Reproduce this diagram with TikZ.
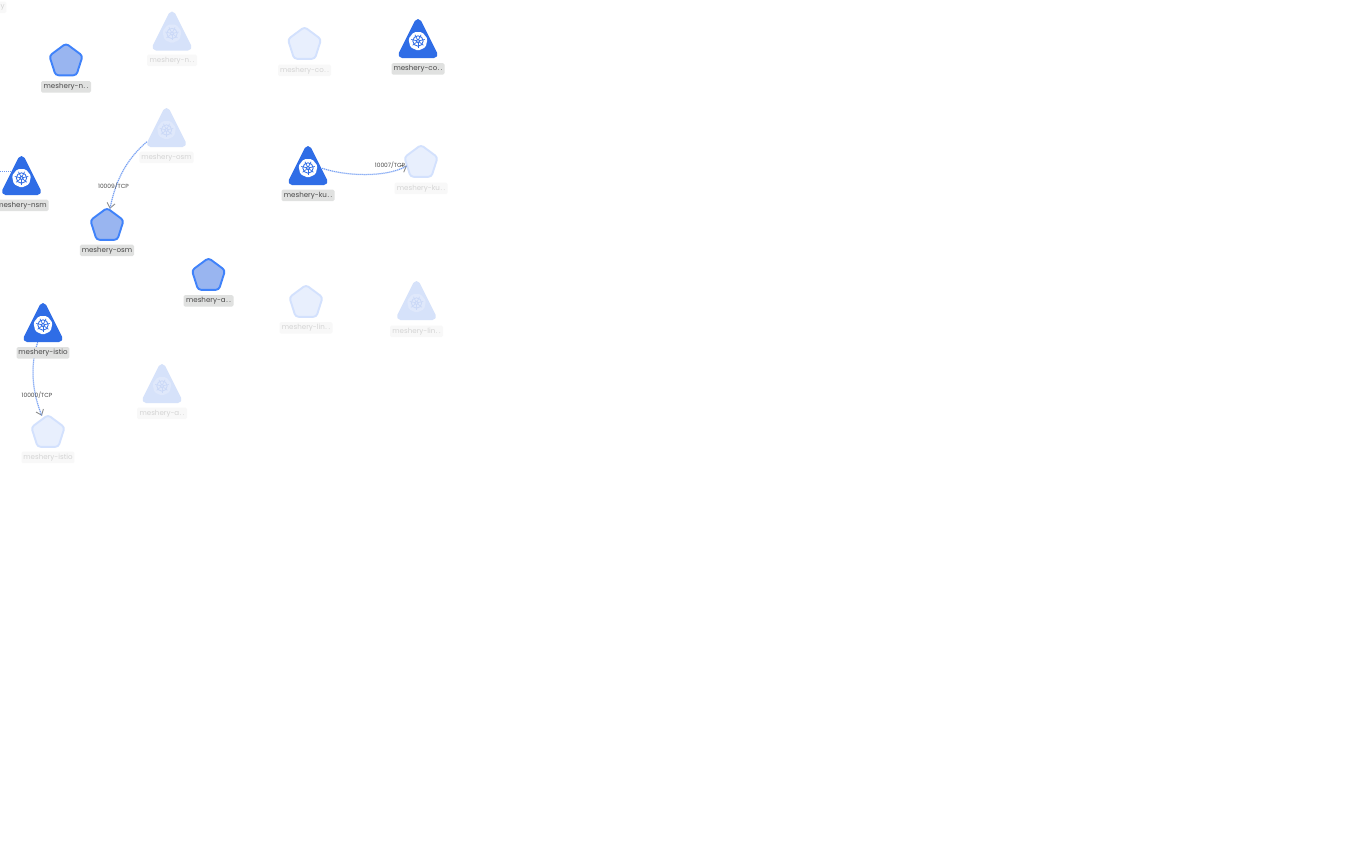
\documentclass[tikz,border=0pt]{standalone}
\usepackage{fontspec}
\setmainfont{Poppins}
\usetikzlibrary{shapes.geometric,arrows.meta,calc}
\definecolor{triB}{HTML}{2F6DE6}
\definecolor{triF}{HTML}{D6E2FA}
\definecolor{hepF}{HTML}{DFE8FB}
\definecolor{whF}{HTML}{CBD9F7}
\definecolor{penBf}{HTML}{99B5F0}
\definecolor{penBd}{HTML}{3F82FA}
\definecolor{penFf}{HTML}{E8EFFD}
\definecolor{penFd}{HTML}{D3E1FD}
\definecolor{labB}{HTML}{E0E1E0}
\definecolor{labF}{HTML}{F8F8F8}
\definecolor{txtB}{HTML}{4A4A4A}
\definecolor{txtF}{HTML}{D4D4D4}
\definecolor{edgeL}{HTML}{D7E3FC}
\definecolor{edgeD}{HTML}{6E9AF2}
\newcommand{\dd}{\kern0.6pt.\kern1.6pt.}
\tikzset{
  lab/.style={font=\fontsize{7.1}{8}\selectfont,inner xsep=1.8pt,inner ysep=0pt,minimum height=11.5pt,rounded corners=1.5pt,text=#1,yshift=-0.4pt},
  labbright/.style={lab=txtB,fill=labB},
  labfaded/.style={lab=txtF,fill=labF},
  shortlab/.style={minimum width=50pt},
  longlab/.style={minimum width=53pt},
  anchorbox/.style={inner sep=0pt,minimum width=39pt,minimum height=39pt},
  pentanchor/.style={inner sep=0pt,minimum width=33pt,minimum height=33pt},
  edgelabel/.style={font=\fontsize{5.9}{6}\selectfont,text=txtB,inner sep=0pt},
  edgebase/.style={draw=edgeL,line width=1.3pt},
  edgedots/.style={draw=edgeD,line width=1pt,dash pattern=on 1pt off 1pt},
  edgetip/.style={-{Straight Barb[length=5pt,width=8pt,color=black!45,line width=0.9pt]}},
}
% tri{name}{cx}{top}{tri colour}{hept colour}{wheel colour}
\newcommand{\triNode}[6]{%
  \pgfmathsetmacro{\bb}{#3+39}%
  \draw[#4,fill=#4,line width=7pt,line join=round] (#2,#3+3.5) -- (#2+16,\bb-3.5) -- (#2-16,\bb-3.5) -- cycle;%
  \fill[#5,rounded corners=1.5pt] (#2,\bb-17) +(90:9.8) -- +(141.4:9.8) -- +(192.9:9.8) -- +(244.3:9.8) -- +(295.7:9.8) -- +(347.1:9.8) -- +(38.6:9.8) -- cycle;%
  \draw[#6,line width=0.85pt] (#2,\bb-17) circle (5.2pt);%
  \draw[#6,line width=0.8pt] (#2,\bb-17) circle (1.7pt);%
  \foreach \a in {90,141.4,192.9,244.3,295.7,347.1,38.6}
    \draw[#6,line width=0.7pt] (#2,\bb-17) +(\a:1.4) -- +(\a:6.9);%
  \node[anchorbox] (#1) at (#2,\bb-19.5) {};%
}
% pen{name}{cx}{top}{fill}{draw}
\newcommand{\penNode}[5]{%
  \pgfmathsetmacro{\cyy}{#3+17.5}%
  \draw[fill=#4,draw=#5,line width=1.9pt,rounded corners=3pt,line join=round]
    (#2,\cyy-17.5) -- (#2+16.6,\cyy-5.2) -- (#2+10.4,\cyy+14.3) -- (#2-10.4,\cyy+14.3) -- (#2-16.6,\cyy-5.2) -- cycle;%
  \node[pentanchor] (#1) at (#2,\cyy) {};%
}
\begin{document}
\begin{tikzpicture}[x=1pt,y=-1pt]
\useasboundingbox (0,0) rectangle (1372,841);
\fill[white] (0,0) rectangle (1372,841);
\begin{scope}
\clip (0,0) rectangle (1372,841);

\coordinate (nsmfree) at (-2,171);
\triNode{nsm}{21.5}{156}{triB}{white}{triB}
\penNode{penosm}{107}{208}{penBf}{penBd}
\triNode{triosmf}{166.5}{108}{triF}{hepF}{whF}
\triNode{triku}{308}{146}{triB}{white}{triB}
\penNode{penkuf}{421}{145}{penFf}{penFd}
\triNode{triistio}{43}{303}{triB}{white}{triB}
\penNode{penistiof}{48}{415}{penFf}{penFd}

\penNode{penn}{66}{43.5}{penBf}{penBd}
\triNode{trinf}{172}{11.5}{triF}{hepF}{whF}
\penNode{pencof}{304.5}{27}{penFf}{penFd}
\triNode{trico}{418}{19}{triB}{white}{triB}
\penNode{pena}{208.5}{258}{penBf}{penBd}
\penNode{penlinf}{306}{285}{penFf}{penFd}
\triNode{trilinf}{416.5}{281}{triF}{hepF}{whF}
\triNode{triaf}{162}{364}{triF}{hepF}{whF}

% connectors
\draw[edgedots] (nsmfree) -- ($(nsm.west |- nsmfree)+(9.5,0)$);
\path[edgebase,edgetip] (triosmf.216) .. controls (128,158) and (116,178) .. (penosm.80);
\path[edgedots] (triosmf.216) .. controls (128,158) and (116,178) .. (penosm.80);
\path[edgebase,edgetip] ([xshift=-5.5pt]triku.-8) .. controls (345,176) and (385,178) .. ([xshift=2.5pt,yshift=-3.5pt]penkuf.west);
\path[edgedots] ([xshift=-5.5pt]triku.-8) .. controls (345,176) and (385,178) .. ([xshift=2.5pt,yshift=-3.5pt]penkuf.west);
\path[edgebase,edgetip] (triistio.-105) .. controls (30,365) and (32,392) .. (penistiof.110);
\path[edgedots] (triistio.-105) .. controls (30,365) and (32,392) .. (penistiof.110);

% labels
\node[labbright,shortlab] at (66,86.5) {meshery-n\dd};
\node[labfaded,shortlab]  at (172,60) {meshery-n\dd};
\node[labfaded,longlab]  at (304.5,70) {meshery-co\dd};
\node[labbright,longlab] at (418,68.5) {meshery-co\dd};
\node[labfaded]  at (166.5,157) {meshery-osm};
\node[labbright] at (21.5,205) {meshery-nsm};
\node[labbright,longlab] at (308,195) {meshery-ku\dd};
\node[labfaded,longlab]  at (421,188) {meshery-ku\dd};
\node[labbright] at (107,250) {meshery-osm};
\node[labbright,shortlab] at (208.5,300.5) {meshery-a\dd};
\node[labfaded,longlab]  at (306,327.5) {meshery-lin\dd};
\node[labfaded,longlab]  at (416.5,331) {meshery-lin\dd};
\node[labbright] at (43,352.5) {meshery-istio};
\node[labfaded,shortlab]  at (162,413) {meshery-a\dd};
\node[labfaded]  at (48,457) {meshery-istio};
\node[labfaded,minimum width=6pt,anchor=east] at (6.5,7) {y};

\node[edgelabel] at (113.5,186) {10009/TCP};
\node[edgelabel] at (390,165) {10007/TCP};
\node[edgelabel] at (37,395) {10000/TCP};
\end{scope}
\end{tikzpicture}
\end{document}
